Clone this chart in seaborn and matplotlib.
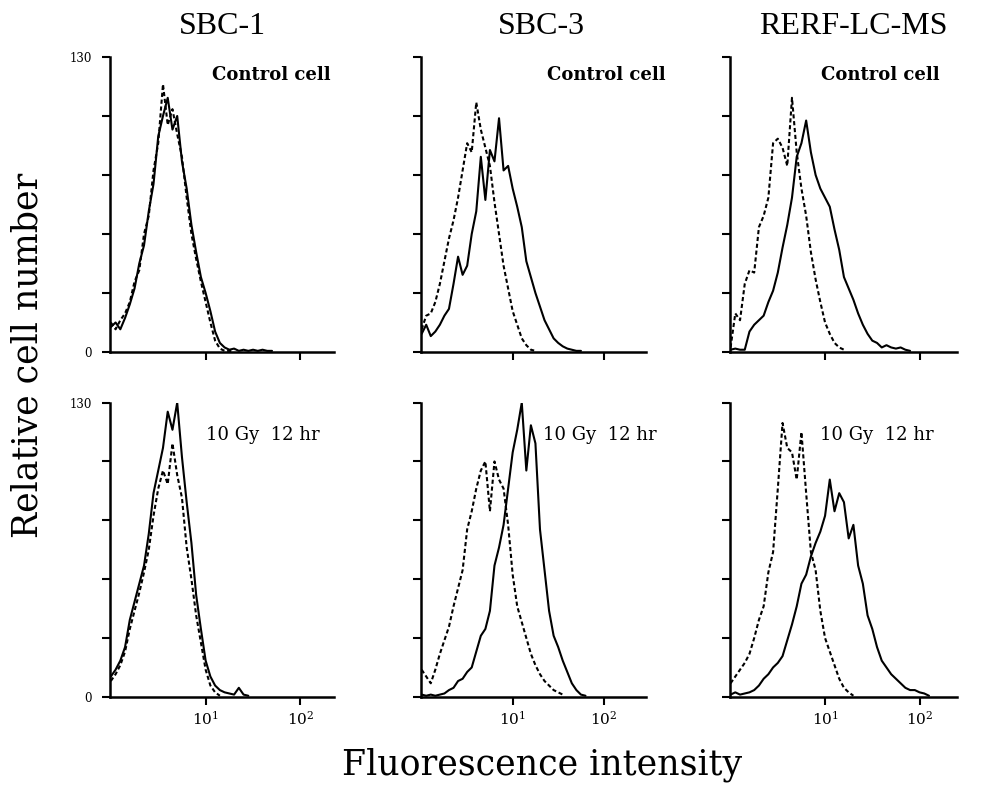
import numpy as np
import pandas as pd
import seaborn as sns
import matplotlib.pyplot as plt

nan = np.nan

# === Data: histogram channels (log10 fluorescence) and cell counts ===
log_channel = [0.00, 0.05, 0.10, 0.15, 0.20, 0.25, 0.30, 0.35, 0.40, 0.45,
               0.50, 0.55, 0.60, 0.65, 0.70, 0.75, 0.80, 0.85, 0.90, 0.95,
               1.00, 1.05, 1.10, 1.15, 1.20, 1.25, 1.30, 1.35, 1.40, 1.45,
               1.50, 1.55, 1.60, 1.65, 1.70, 1.75, 1.80, 1.85, 1.90, 1.95,
               2.00, 2.05, 2.10]

cell_lines = ["SBC-1", "SBC-3", "RERF-LC-MS"]
conditions = ["Control cell", "10 Gy  12 hr"]

# control cells, solid line
sbc1_ctrl_solid = [11, 13, 10, 15, 21, 28, 39, 47, 62, 74, 95, 104, 112, 98, 104, 84, 72, 56, 44, 33,
                   26, 18, 9, 4, 2, 1, 1.5, 0.5, 1, 0.5, 1, 0.5, 1, 0.5, 0.5]
sbc3_ctrl_solid = [8, 12, 7, 9, 12, 16, 19, 30, 42, 34, 38, 52, 62, 86, 67, 89, 84, 103, 80, 82,
                   72, 64, 55, 40, 33, 26, 20, 14, 10, 6, 4, 2.5, 1.5, 1, 0.5, 0.5]
rerf_ctrl_solid = [1, 1.5, 1, 1, 9, 12, 14, 16, 22, 27, 35, 46, 56, 68, 86, 92, 102, 88, 78, 72,
                   68, 64, 54, 45, 33, 28, 23, 17, 12, 8, 5, 4, 2, 3, 2, 1.5, 2, 1, 0.5]
# control cells, dashed line
sbc1_ctrl_dashed = [13, 10, 14, 17, 22, 31, 36, 52, 60, 80, 92, 118, 100, 107, 96, 86, 68, 52, 41, 31,
                    22, 13, 5, 1.5, 0.5, 0.5, 0.3]
sbc3_ctrl_dashed = [10, 16, 17, 22, 30, 40, 50, 58, 68, 80, 92, 88, 110, 98, 90, 82, 66, 52, 38, 28,
                    18, 12, 6, 3, 1, 0.5]
rerf_ctrl_dashed = [2, 17, 14, 30, 36, 35, 55, 60, 68, 92, 94, 90, 82, 112, 88, 72, 60, 44, 32, 22,
                    13, 8, 4, 2, 1]

# 10 Gy 12 hr, solid line
sbc1_irr_solid = [9, 12, 16, 22, 34, 42, 50, 58, 72, 90, 100, 110, 126, 118, 130, 106, 86, 68, 45, 30,
                  16, 9, 5, 3, 2, 1.5, 1, 4, 1, 0.5]
sbc3_irr_solid = [1, 0.5, 1, 0.5, 1, 1.5, 3, 4, 7, 8, 11, 13, 20, 27, 30, 38, 58, 66, 76, 92,
                  108, 118, 130, 100, 120, 112, 74, 56, 38, 27, 22, 16, 11, 6, 3, 1, 0.5]
rerf_irr_solid = [1, 2, 1, 1.5, 2, 3, 5, 8, 10, 13, 15, 18, 25, 32, 40, 50, 54, 62, 68, 73,
                  80, 96, 82, 90, 86, 70, 76, 58, 50, 36, 30, 22, 16, 13, 10, 8, 6, 4, 3, 3,
                  2, 1.5, 0.5]
# 10 Gy 12 hr, dashed line
sbc1_irr_dashed = [7, 10, 14, 20, 30, 38, 46, 55, 65, 80, 92, 100, 94, 112, 98, 88, 66, 52, 36, 24,
                   12, 5, 2, 0.5]
sbc3_irr_dashed = [12, 9, 6, 12, 19, 25, 31, 40, 48, 56, 74, 82, 92, 100, 104, 82, 104, 96, 92, 76,
                   54, 40, 33, 26, 19, 14, 10, 7, 5, 3, 2, 1]
rerf_irr_dashed = [6, 9, 12, 15, 19, 26, 34, 40, 55, 64, 92, 121, 110, 108, 96, 117, 90, 64, 56, 38,
                   26, 20, 14, 8, 4, 2, 0.5]

solid = [[sbc1_ctrl_solid, sbc3_ctrl_solid, rerf_ctrl_solid],
         [sbc1_irr_solid, sbc3_irr_solid, rerf_irr_solid]]
dashed = [[sbc1_ctrl_dashed, sbc3_ctrl_dashed, rerf_ctrl_dashed],
          [sbc1_irr_dashed, sbc3_irr_dashed, rerf_irr_dashed]]


def pad(vals):
    return list(vals) + [nan] * (len(log_channel) - len(vals))


# === Figure setup ===
sns.set_theme(style="ticks")
plt.rcParams["font.family"] = ["DejaVu Serif"]
plt.rcParams["mathtext.fontset"] = "dejavuserif"
for key in ["text.color", "axes.labelcolor", "xtick.color", "ytick.color", "axes.edgecolor"]:
    plt.rcParams[key] = "black"

fig = plt.figure(figsize=(9.9, 7.91), dpi=100)

col_left = [0.111, 0.425, 0.737]
col_width = [0.226, 0.228, 0.230]
col_xmax = [2.35, 2.47, 2.40]
row_bottom = [0.555, 0.119]
row_height = [0.373, 0.372]
note_x = [[0.455, 0.56, 0.40], [0.43, 0.54, 0.395]]
note_y = [0.94, 0.89]

intensity = np.power(10.0, log_channel)

for r in range(2):
    for c in range(3):
        ax = fig.add_axes([col_left[c], row_bottom[r], col_width[c], row_height[r]])
        df = pd.DataFrame({
            "intensity": np.concatenate([intensity, intensity]),
            "count": pad(solid[r][c]) + pad(dashed[r][c]),
            "curve": ["solid"] * len(log_channel) + ["dashed"] * len(log_channel),
        })
        sns.lineplot(data=df, x="intensity", y="count", style="curve",
                     dashes={"solid": "", "dashed": (2.0, 1.3)},
                     color="black", estimator=None, sort=False,
                     linewidth=1.5, legend=False, ax=ax)
        ax.set_xscale("log")
        ax.set_xlim(10 ** -0.01, 10 ** col_xmax[c])
        ax.set_ylim(0, 130)
        sns.despine(ax=ax)
        for s in ["left", "bottom"]:
            ax.spines[s].set_linewidth(1.8)
            ax.spines[s].set_color("black")
        ax.set_xticks([10, 100])
        ax.xaxis.set_minor_locator(plt.NullLocator())
        ax.set_yticks([0, 26, 52, 78, 104, 130])
        ax.tick_params(axis="both", direction="out", length=6, width=1.5, color="black")
        ax.tick_params(axis="y", pad=7)
        if r == 1:
            ax.set_xticklabels([r"$10^1$", r"$10^2$"], fontsize=11)
        else:
            ax.set_xticklabels([])
        if c == 0:
            ax.set_yticklabels(["0", "", "", "", "", "130"], fontsize=8.5)
        else:
            ax.set_yticklabels([])
        ax.set_xlabel("")
        ax.set_ylabel("")
        ax.text(note_x[r][c], note_y[r], conditions[r], transform=ax.transAxes,
                fontsize=13, fontweight="bold" if r == 0 else "normal",
                ha="left", va="center", clip_on=False)

title_x = [0.225, 0.547, 0.862]
for c in range(3):
    fig.text(title_x[c], 0.966, cell_lines[c], fontsize=23, family=["Liberation Serif"],
             ha="center", va="center")

fig.text(0.028, 0.551, "Relative cell number", fontsize=25, rotation=90,
         ha="center", va="center")
fig.text(0.548, 0.033, "Fluorescence intensity", fontsize=25, ha="center", va="center")

fig.savefig("out.png", dpi=100)
